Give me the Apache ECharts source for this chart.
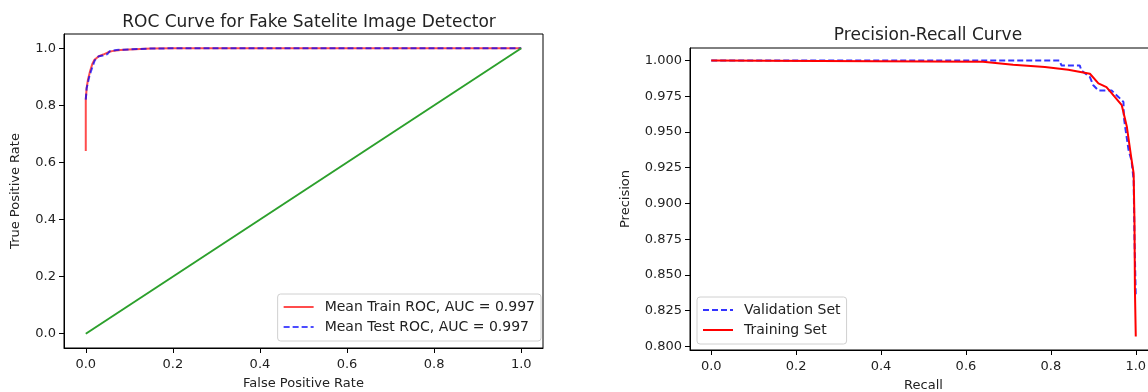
<!DOCTYPE html>
<html>
<head>
<meta charset="utf-8">
<script src="https://cdn.jsdelivr.net/npm/echarts@6/dist/echarts.min.js"></script>
<style>
html, body { margin: 0; padding: 0; background: #fff; }
#main { width: 1148px; height: 392px; }
</style>
</head>
<body>
<div id="main"></div>
<script>
// ROC curve (left)
var rocFprTrain = [0, 0, 0.002, 0.005, 0.01, 0.015, 0.02, 0.03, 0.04, 0.05, 0.06, 0.08, 0.1, 0.15, 0.2, 1.0];
var rocTprTrain = [0.64, 0.82, 0.86, 0.89, 0.92, 0.945, 0.96, 0.972, 0.978, 0.985, 0.99, 0.994, 0.996, 0.999, 1.0, 1.0];
var rocFprTest = [0, 0.002, 0.005, 0.008, 0.012, 0.02, 0.025, 0.03, 0.04, 0.05, 0.055, 0.07, 0.1, 0.15, 0.2, 1.0];
var rocTprTest = [0.82, 0.86, 0.88, 0.9, 0.92, 0.955, 0.968, 0.972, 0.975, 0.98, 0.99, 0.994, 0.996, 0.999, 1.0, 1.0];
var chanceX = [0, 1];
var chanceY = [0, 1];
var rocTicks = [0, 0.2, 0.4, 0.6, 0.8, 1.0];

// Precision-Recall curve (right)
var valRecall = [0, 0.82, 0.825, 0.868, 0.872, 0.892, 0.9, 0.912, 0.943, 0.959, 0.971, 0.972, 0.975, 0.983, 0.99, 0.995, 0.997, 1.0];
var valPrecision = [1, 1, 0.9965, 0.9965, 0.993, 0.9884, 0.9826, 0.979, 0.979, 0.9745, 0.971, 0.96, 0.9536, 0.9373, 0.93, 0.9164, 0.875, 0.835];
var trainRecall = [0, 0.64, 0.711, 0.786, 0.841, 0.892, 0.912, 0.931, 0.955, 0.967, 0.979, 0.989, 0.995, 0.997, 0.998, 1.0];
var trainPrecision = [1, 0.999, 0.997, 0.9954, 0.9935, 0.9907, 0.984, 0.9814, 0.973, 0.9687, 0.9536, 0.9327, 0.921, 0.886, 0.84, 0.807];
var recallTicks = [0, 0.2, 0.4, 0.6, 0.8, 1.0];
var precisionTicks = [0.8, 0.825, 0.85, 0.875, 0.9, 0.925, 0.95, 0.975, 1.0];

function zip(xs, ys) {
    var out = [];
    for (var i = 0; i < xs.length; i++) out.push([xs[i], ys[i]]);
    return out;
}

var FONT = 'DejaVu Sans';
var TXT = '#222';

function valueAxis(idx, min, max, ticks, digits, name, nameGap, labelMargin) {
    return {
        type: 'value',
        gridIndex: idx,
        min: min,
        max: max,
        name: name,
        nameLocation: 'middle',
        nameGap: nameGap,
        nameTextStyle: { fontFamily: FONT, fontSize: 13, color: TXT },
        axisLine: { show: true, onZero: false, lineStyle: { color: '#000', width: 1 } },
        axisTick: { show: true, length: 5, inside: false, customValues: ticks, lineStyle: { color: '#000' } },
        axisLabel: {
            customValues: ticks,
            margin: labelMargin,
            fontFamily: FONT, fontSize: 13, color: TXT,
            formatter: function (v) { return Number(v).toFixed(digits); }
        },
        splitLine: { show: false }
    };
}

function legendBox(names, pos) {
    var l = {
        data: names,
        orient: 'vertical',
        itemWidth: 30, itemHeight: 14, itemGap: 6, padding: [6, 6, 7, 5],
        borderColor: '#d0d0d0', borderWidth: 1, borderRadius: 3, backgroundColor: 'rgba(255,255,255,0.8)',
        itemStyle: { opacity: 0 },
        textStyle: { fontFamily: FONT, fontSize: 14, color: TXT, padding: [0, 0, 0, 6] }
    };
    for (var k in pos) l[k] = pos[k];
    return l;
}

var myChart = echarts.init(document.getElementById('main'));
var option = {
    animation: false,
    backgroundColor: '#fff',
    title: [
        { text: 'ROC Curve for Fake Satelite Image Detector', left: 304, top: 9, textAlign: 'center',
          textStyle: { fontFamily: FONT, fontSize: 17, fontWeight: 'normal', color: TXT } },
        { text: 'Precision-Recall Curve', left: 923, top: 22, textAlign: 'center',
          textStyle: { fontFamily: FONT, fontSize: 17, fontWeight: 'normal', color: TXT } }
    ],
    grid: [
        { left: 64, top: 34, width: 479, height: 314, outerBoundsMode: 'none', containLabel: false,
          show: true, borderColor: '#000', borderWidth: 1, backgroundColor: '#fff' },
        { left: 690, top: 48, width: 467, height: 302, outerBoundsMode: 'none', containLabel: false,
          show: true, borderColor: '#000', borderWidth: 1, backgroundColor: '#fff' }
    ],
    xAxis: [
        valueAxis(0, -0.05, 1.05, rocTicks, 1, 'False Positive Rate', 29, 10),
        valueAxis(1, -0.05, 1.05, recallTicks, 1, 'Recall', 29, 10)
    ],
    yAxis: [
        valueAxis(0, -0.05, 1.05, rocTicks, 1, 'True Positive Rate', 42, 8),
        valueAxis(1, 0.7975, 1.0087, precisionTicks, 3, 'Precision', 58, 8)
    ],
    legend: [
        legendBox(['Mean Train ROC, AUC = 0.997', 'Mean Test ROC, AUC = 0.997'], { right: 607, bottom: 51 }),
        legendBox(['Validation Set', 'Training Set'], { left: 697, bottom: 48 })
    ],
    series: [
        {
            name: 'Mean Train ROC, AUC = 0.997', type: 'line', xAxisIndex: 0, yAxisIndex: 0,
            symbol: 'none', color: 'rgba(255,0,0,0.7)',
            lineStyle: { color: 'rgba(255,0,0,0.7)', width: 2 },
            data: zip(rocFprTrain, rocTprTrain)
        },
        {
            name: 'Mean Test ROC, AUC = 0.997', type: 'line', xAxisIndex: 0, yAxisIndex: 0,
            symbol: 'none', color: 'rgba(0,0,255,0.7)',
            lineStyle: { color: 'rgba(0,0,255,0.7)', width: 2, type: [6, 3] },
            data: zip(rocFprTest, rocTprTest)
        },
        {
            name: 'chance', type: 'line', xAxisIndex: 0, yAxisIndex: 0,
            symbol: 'none', color: '#2ca02c',
            lineStyle: { color: '#2ca02c', width: 2 },
            data: zip(chanceX, chanceY)
        },
        {
            name: 'Validation Set', type: 'line', xAxisIndex: 1, yAxisIndex: 1,
            symbol: 'none', color: 'rgba(0,0,255,0.8)',
            lineStyle: { color: 'rgba(0,0,255,0.8)', width: 2, type: [6, 3] },
            data: zip(valRecall, valPrecision)
        },
        {
            name: 'Training Set', type: 'line', xAxisIndex: 1, yAxisIndex: 1,
            symbol: 'none', color: '#ff0000',
            lineStyle: { color: '#ff0000', width: 2 },
            data: zip(trainRecall, trainPrecision)
        }
    ]
};
myChart.setOption(option);
</script>
</body>
</html>
